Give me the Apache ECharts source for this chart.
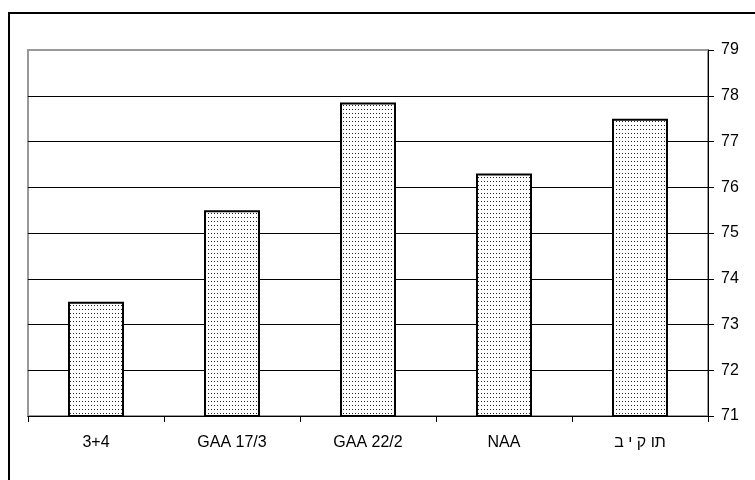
<!DOCTYPE html>
<html>
<head>
<meta charset="utf-8">
<script src="https://cdn.jsdelivr.net/npm/echarts@6/dist/echarts.min.js"></script>
<style>
  html, body { margin: 0; padding: 0; background: #fff; }
  #chart { width: 755px; height: 480px; }
</style>
</head>
<body>
<div id="chart"></div>
<script>
// Category names along the bottom axis (the Hebrew one written in its printed left-to-right order)
const categories = ['3+4', 'GAA 17/3', 'GAA 22/2', 'NAA', 'ב י ק ות'];
// Bar heights
const values = [73.5, 75.5, 77.85, 76.3, 77.5];
// Value-axis range and step
const yMin = 71;
const yMax = 79;
const yStep = 1;

// Dotted fill used by every bar
function dotPattern() {
  const c = document.createElement('canvas');
  c.width = 3;
  c.height = 4;
  const g = c.getContext('2d');
  g.fillStyle = '#ffffff';
  g.fillRect(0, 0, 3, 4);
  g.fillStyle = '#222222';
  g.fillRect(1, 1, 1, 1);
  return c;
}

// Hebrew labels are split into one rich-text token per character so that
// the glyphs are laid out strictly left to right, as printed.
const hebrew = /[\u0590-\u05FF]/;
function labelFormatter(value) {
  if (!hebrew.test(value)) return value;
  return Array.from(value).map(function (ch) { return '{c|' + ch + '}'; }).join('');
}

const chart = echarts.init(document.getElementById('chart'), null, { renderer: 'canvas' });
const font = '"Liberation Sans", Arial, sans-serif';

chart.setOption({
  animation: false,
  backgroundColor: '#ffffff',
  textStyle: { fontFamily: font },
  grid: {
    left: 28, top: 50, right: 47, bottom: 64,
    show: true, borderColor: '#999999', borderWidth: 2, backgroundColor: 'transparent'
  },
  graphic: [{
    type: 'rect',
    shape: { x: 9, y: 13, width: 800, height: 520 },
    style: { fill: 'none', stroke: '#000000', lineWidth: 2 },
    silent: true
  }],
  xAxis: {
    type: 'category',
    data: categories,
    boundaryGap: true,
    axisLine: { show: true, lineStyle: { color: '#000000', width: 1 } },
    axisTick: { show: true, interval: 0, length: 6, lineStyle: { color: '#000000' } },
    axisLabel: {
      interval: 0, hideOverlap: false,
      color: '#000000', fontSize: 16, margin: 19, fontFamily: font,
      formatter: labelFormatter,
      rich: { c: { color: '#000000', fontSize: 16, fontFamily: font } }
    },
    splitLine: { show: false }
  },
  yAxis: {
    type: 'value',
    position: 'right',
    min: yMin,
    max: yMax,
    interval: yStep,
    axisLine: { show: true, lineStyle: { color: '#000000', width: 1 } },
    axisTick: { show: true, length: 6, inside: false, lineStyle: { color: '#000000' } },
    axisLabel: { color: '#000000', fontSize: 16, margin: 13, fontFamily: font },
    splitLine: { show: true, showMaxLine: false, lineStyle: { color: '#000000', width: 1 } }
  },
  series: [{
    type: 'bar',
    data: values,
    barWidth: 56,
    itemStyle: {
      color: { image: dotPattern(), repeat: 'repeat' },
      borderColor: '#000000',
      borderWidth: 2
    }
  }]
});
</script>
</body>
</html>
